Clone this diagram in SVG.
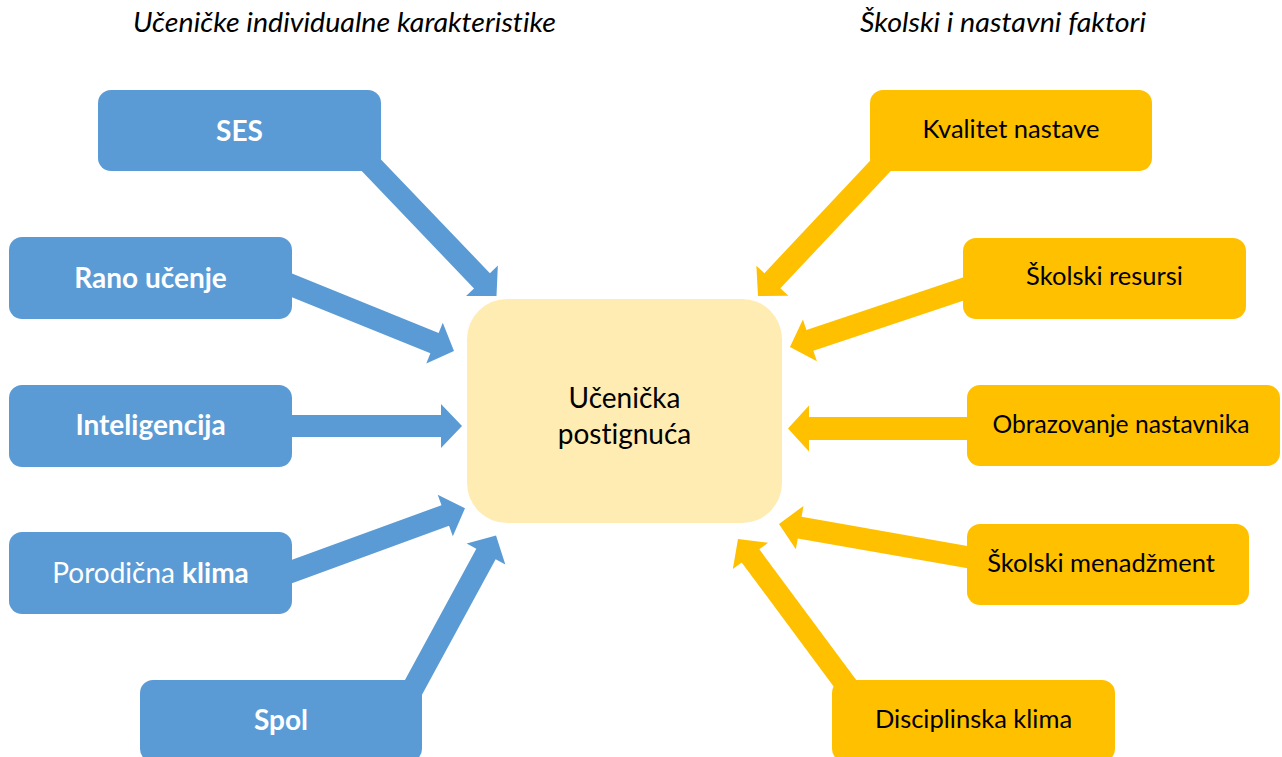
<svg xmlns="http://www.w3.org/2000/svg" width="1282" height="757" viewBox="0 0 1282 757">
  <style>
    text { font-variant-ligatures: none; }
    .blue { fill: #5B9BD5; }
    .gold { fill: #FFC000; }
    .center { fill: #FFECB3; }
    .hdr { font-family: Lato, "Open Sans", "Liberation Sans", sans-serif; font-style: italic; font-size: 27px; fill: #000; }
    .lbl-l { font-family: Lato, "Open Sans", "Liberation Sans", sans-serif; font-size: 28px; fill: #fff; text-anchor: middle; }
    .b { font-weight: bold; }
    .lbl-r { font-family: Lato, "Open Sans", "Liberation Sans", sans-serif; font-size: 25.5px; fill: #000; text-anchor: middle; }
    .lbl-c { font-family: Lato, "Open Sans", "Liberation Sans", sans-serif; font-size: 28px; fill: #000; text-anchor: middle; }
  </style>

  <text class="hdr" x="133" y="32" textLength="423" lengthAdjust="spacingAndGlyphs">Učeničke individualne karakteristike</text>
  <text class="hdr" x="860" y="32" textLength="286" lengthAdjust="spacingAndGlyphs">Školski i nastavni faktori</text>

  <g id="connectors">
    <polygon class="blue" transform="translate(351,144) rotate(46.25)" points="0,-11 189.4,-11 189.4,-22 210.4,0 189.4,22 189.4,11 0,11"/>
    <polygon class="blue" transform="translate(272.5,277.5) rotate(22.04)" points="0,-11 174.8,-11 174.8,-22 195.8,0 174.8,22 174.8,11 0,11"/>
    <polygon class="blue" transform="translate(270,426) rotate(0)" points="0,-11 171,-11 171,-22 192,0 171,22 171,11 0,11"/>
    <polygon class="blue" transform="translate(273.2,578.4) rotate(-20.07)" points="0,-11 183.2,-11 183.2,-22 204.2,0 183.2,22 183.2,11 0,11"/>
    <polygon class="blue" transform="translate(399,714) rotate(-61.48)" points="0,-11 182.2,-11 182.2,-22 203.2,0 182.2,22 182.2,11 0,11"/>
    <polygon class="gold" transform="translate(899.5,145.6) rotate(133.25)" points="0,-11 185.5,-11 185.5,-22 206.5,0 185.5,22 185.5,11 0,11"/>
    <polygon class="gold" transform="translate(982,282.7) rotate(161.48)" points="0,-11 181.5,-11 181.5,-22 202.5,0 181.5,22 181.5,11 0,11"/>
    <polygon class="gold" transform="translate(990,428.5) rotate(180)" points="0,-11.5 181,-11.5 181,-23 202,0 181,23 181,11.5 0,11.5"/>
    <polygon class="gold" transform="translate(986.7,560.5) rotate(-170.03)" points="0,-11 189.9,-11 189.9,-22 210.9,0 189.9,22 189.9,11 0,11"/>
    <polygon class="gold" transform="translate(859.3,702.6) rotate(-126.55)" points="0,-11 182.7,-11 182.7,-22 203.7,0 182.7,22 182.7,11 0,11"/>
  </g>

  <g id="n-center">
    <rect class="center" x="467" y="299" width="315" height="224" rx="40" ry="40"/>
    <text class="lbl-c" x="624.5" y="408">Učenička</text>
    <text class="lbl-c" x="624.5" y="444">postignuća</text>
  </g>

  <g id="n-ses">
    <rect class="blue" x="98" y="90" width="283" height="81" rx="13" ry="13"/>
    <text class="lbl-l b" x="239.5" y="141">SES</text>
  </g>
  <g id="n-rano">
    <rect class="blue" x="9" y="237" width="283" height="82" rx="13" ry="13"/>
    <text class="lbl-l b" x="150.5" y="288">Rano učenje</text>
  </g>
  <g id="n-inteligencija">
    <rect class="blue" x="9" y="385" width="283" height="82" rx="13" ry="13"/>
    <text class="lbl-l b" x="150.5" y="435">Inteligencija</text>
  </g>
  <g id="n-porodicna">
    <rect class="blue" x="9" y="532" width="283" height="82" rx="13" ry="13"/>
    <text class="lbl-l" x="150.5" y="583">Porodična <tspan class="b">klima</tspan></text>
  </g>
  <g id="n-spol">
    <rect class="blue" x="140" y="680" width="282" height="82" rx="13" ry="13"/>
    <text class="lbl-l b" x="281" y="730">Spol</text>
  </g>

  <g id="n-kvalitet">
    <rect class="gold" x="870" y="90" width="282" height="81" rx="13" ry="13"/>
    <text class="lbl-r" x="1011" y="138">Kvalitet nastave</text>
  </g>
  <g id="n-resursi">
    <rect class="gold" x="963" y="238" width="283" height="81" rx="13" ry="13"/>
    <text class="lbl-r" x="1104.5" y="285">Školski resursi</text>
  </g>
  <g id="n-obrazovanje">
    <rect class="gold" x="967" y="385" width="313" height="81" rx="13" ry="13"/>
    <text class="lbl-r" x="1121" y="433" textLength="257" lengthAdjust="spacingAndGlyphs">Obrazovanje nastavnika</text>
  </g>
  <g id="n-menadzment">
    <rect class="gold" x="967" y="524" width="282" height="81" rx="13" ry="13"/>
    <text class="lbl-r" x="1101" y="572">Školski menadžment</text>
  </g>
  <g id="n-disciplinska">
    <rect class="gold" x="832" y="680" width="283" height="82" rx="13" ry="13"/>
    <text class="lbl-r" x="973.5" y="728">Disciplinska klima</text>
  </g>
</svg>
